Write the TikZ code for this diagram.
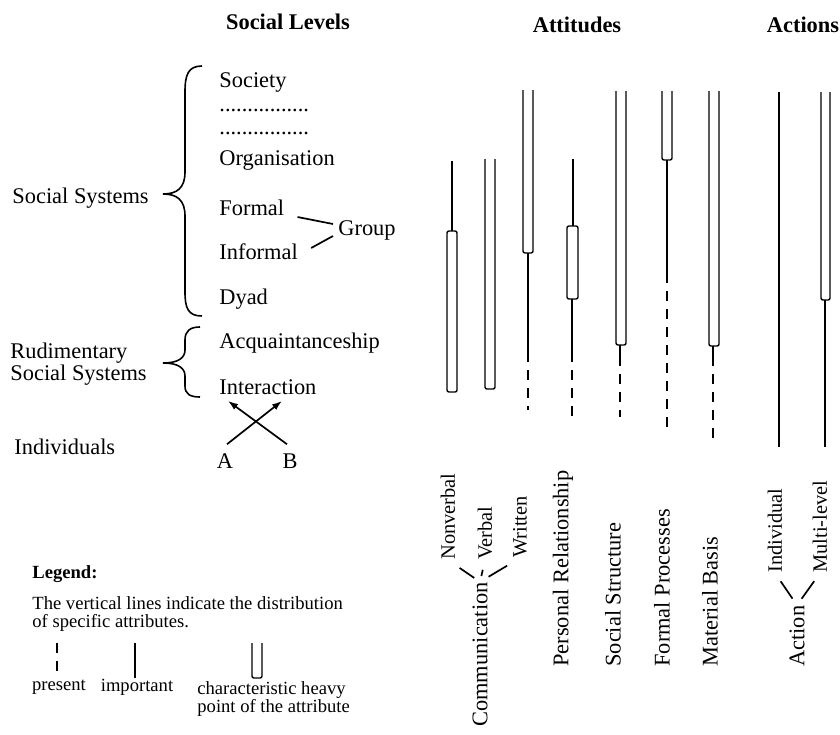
\documentclass[tikz,border=0pt]{standalone}
\usepackage{fontspec}
\setmainfont{Liberation Serif}
\usetikzlibrary{arrows.meta,calc}
\newcommand{\lvlfont}{\fontsize{11.2}{11}\selectfont}
\newcommand{\legfont}{\fontsize{9.3}{9}\selectfont}
\newcommand{\subfont}{\fontsize{10.2}{10}\selectfont}

\begin{document}
\begin{tikzpicture}[x=0.5pt,y=-0.5pt,
    lbl/.style={font=\lvlfont, inner sep=0pt, anchor=west},
    title/.style={font=\lvlfont\bfseries, inner sep=0pt},
    vlbl/.style={font=\lvlfont, inner sep=0pt, anchor=west, rotate=90},
    vsub/.style={vlbl, font=\subfont},
    leg/.style={font=\legfont, inner sep=0pt},
    importantline/.style={line width=0.7pt},
    presentline/.style={line width=0.7pt, dash pattern=on 5pt off 4pt},
    heavyline/.style={line width=0.7pt, rounded corners=1pt},
    forkline/.style={line width=0.85pt}]
    \useasboundingbox (0,0) rectangle (840,734);
    % column titles
    \node[title] (levels) at (288,22) {Social Levels};
    \node[title] (attitudes) at (577,25) {Attitudes};
    \node[title] (actions) at (803,25) {Actions};
    % social levels
    \node[lbl] (sys) at (12,198) {Social Systems};
    \node[lbl] (society) at (219,82) {Society};
    \node[lbl] (dotsA) at (219,110) {................};
    \node[lbl] (dotsB) at (219,133) {................};
    \node[lbl] (org) at (219,160) {Organisation};
    \node[lbl] (formal) at (219,208) {Formal};
    \node[lbl] (group) at (338,230) {Group};
    \node[lbl] (informal) at (219,252) {Informal};
    \node[lbl] (dyad) at (219,299) {Dyad};
    \node[lbl] (acq) at (219,343) {Acquaintanceship};
    \node[lbl] (inter) at (219,387) {Interaction};
    \node[lbl, align=left] (rud) at (10,364) {Rudimentary\\Social Systems};
    \node[lbl] (indiv) at (14,447) {Individuals};
    \node[inner sep=0pt, font=\lvlfont] (a) at (225,461) {A};
    \node[inner sep=0pt, font=\lvlfont] (b) at (290,461) {B};
    % braces
    \draw[line width=0.8pt] (202,66) .. controls (188,66) and (185,75) .. (185,92) -- (185,172)
        .. controls (185,188) and (177,194) .. (163,194)
        .. controls (177,194) and (185,200) .. (185,216) -- (185,292)
        .. controls (185,308) and (188,316) .. (202,316);
    \draw[line width=0.8pt] (200,327) .. controls (190,327) and (185,331) .. (185,340) -- (185,350)
        .. controls (185,358) and (178,363) .. (163,363)
        .. controls (178,363) and (185,368) .. (185,376) -- (185,386)
        .. controls (185,394) and (190,397) .. (200,397);
    % group and interaction
    \draw[forkline] ([xshift=6.5pt,yshift=-4.5pt]formal.east) -- ([xshift=-2.5pt,yshift=3pt]group.west);
    \draw[forkline] ([xshift=6.5pt,yshift=2pt]informal.east) -- ([xshift=-2.5pt,yshift=-3pt]group.west);
    \draw[forkline, -{Latex[length=5pt,width=3.5pt]}] ([xshift=1pt,yshift=4.5pt]a.north) -- ([xshift=31.5pt,yshift=-3pt]inter.south west);
    \draw[forkline, -{Latex[length=5pt,width=3.5pt]}] ([xshift=-1.5pt,yshift=4.5pt]b.north) -- ([xshift=4.5pt,yshift=-3pt]inter.south west);
    % communication: nonverbal, verbal, written
    \draw[importantline] (452,161) -- (452,231);
    \draw[heavyline] (447,231) rectangle (457,392);
    \draw[heavyline] (485,159) -- (485,389) -- (495,389) -- (495,159);
    \draw[heavyline] (523,90) -- (523,253) -- (533,253) -- (533,90);
    \draw[importantline] (528,253) -- (528,352);
    \draw[presentline] (528,352) -- (528,410);
    % personal relationship
    \draw[importantline] (573,159) -- (573,226);
    \draw[heavyline] (567,226) rectangle (578,299);
    \draw[importantline] (572,299) -- (572,352);
    \draw[presentline] (572,352) -- (572,417);
    % social structure
    \draw[heavyline] (616,91) -- (616,345) -- (626,345) -- (626,91);
    \draw[importantline] (620,345) -- (620,356);
    \draw[presentline] (620,356) -- (620,417);
    % formal processes
    \draw[heavyline] (662,91) -- (662,160) -- (672,160) -- (672,91);
    \draw[importantline] (667,160) -- (667,273);
    \draw[presentline] (667,273) -- (667,432);
    % material basis
    \draw[heavyline] (709,91) -- (709,346) -- (719,346) -- (719,91);
    \draw[importantline] (713,346) -- (713,356);
    \draw[presentline] (713,356) -- (713,445);
    % action: individual, multi-level
    \draw[importantline] (779,92) -- (779,447);
    \draw[heavyline] (821,92) -- (821,300) -- (830,300) -- (830,92);
    \draw[importantline] (825,300) -- (825,447);
    % attribute names
    \node[vlbl] (comm) at (480,727) {Communication};
    \node[vsub] (nonv) at (448,560) {Nonverbal};
    \node[vsub] (verb) at (485,560) {Verbal};
    \node[vsub] (writ) at (520,558) {Written};
    \node[vlbl] (pers) at (563,667) {Personal Relationship};
    \node[vlbl] (struct) at (613,667) {Social Structure};
    \node[vlbl] (proc) at (662,667) {Formal Processes};
    \node[vlbl] (mat) at (710,667) {Material Basis};
    \node[vlbl] (act) at (797,667) {Action};
    \node[vsub] (single) at (775,573) {Individual};
    \node[vsub] (multi) at (820,573) {Multi-level};
    \draw[forkline, shorten <=3.5pt, shorten >=7pt] (comm.east) -- (nonv.west);
    \draw[forkline, shorten <=3pt, shorten >=5pt] (comm.east) -- (verb.west);
    \draw[forkline, shorten <=5pt, shorten >=7.5pt] (comm.east) -- (writ.west);
    \draw[forkline, shorten <=4pt, shorten >=5pt] (act.east) -- (single.west);
    \draw[forkline, shorten <=4pt, shorten >=5pt] (act.east) -- (multi.west);
    % legend
    \node[leg, font=\legfont\bfseries, anchor=west] (legend) at (32,574) {Legend:};
    \node[leg, anchor=north west, align=left] (legtext) at (32,596) {The vertical lines indicate the distribution\\of specific attributes.};
    \draw[presentline] (57,643) -- (57,678);
    \draw[importantline] (135,643) -- (135,678);
    \draw[heavyline] (252,643) -- (252,678) -- (262,678) -- (262,643);
    \node[leg] (present) at (59,687) {present};
    \node[leg] (important) at (137,687) {important};
    \node[leg, anchor=west, align=left] (heavy) at (197,699) {characteristic heavy\\point of the attribute};
\end{tikzpicture}
\end{document}
